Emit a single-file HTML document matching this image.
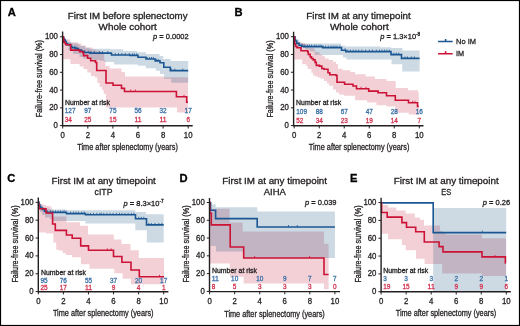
<!DOCTYPE html>
<html><head><meta charset="utf-8"><style>
html,body{margin:0;padding:0;background:#fff;}
svg{display:block;will-change:transform;filter:blur(0.3px);font-family:"Liberation Sans", sans-serif;}
text{stroke-width:0.3px;paint-order:stroke;}
</style></head><body>
<svg width="520" height="326" viewBox="0 0 520 326">
<rect x="0" y="0" width="520" height="326" fill="#fff"/>
<path d="M62.7,36.8L64,36.8L64,38L65.7,38L65.7,39.5L70.3,39.5L70.3,42.3L78.6,42.3L78.6,43.5L81.3,43.5L81.3,45.5L86,45.5L86,47.5L92.4,47.5L92.4,49.5L96,49.5L96,50.5L100,50.5L100,52L104.2,52L104.2,60L105.4,60L105.4,66L109.7,66L109.7,68.4L121.4,68.4L121.4,72.1L125,72.1L125,76.6L164,76.6L164,77.2L188,77.2L188,112.5L177,112.5L177,107.5L106,107.5L106,94L103.7,94L103.7,90L102,90L102,87L99.6,87L99.6,83L97.3,83L97.3,77.5L95,77.5L95,76L91,76L91,72.5L87.3,72.5L87.3,69L83.5,69L83.5,66.5L79.6,66.5L79.6,64L70.4,64L70.4,59.3L62.7,59.3Z" fill="#be1432" fill-opacity="0.2"/>
<path d="M62.7,36.8L63.5,36.8L63.5,38L64.8,38L64.8,39.5L67.5,39.5L67.5,42L71.2,42L71.2,43.2L76.7,43.2L76.7,44.1L79.5,44.1L79.5,46L85,46L85,47.8L89.6,47.8L89.6,48.8L110,48.8L110,49.3L123,49.3L123,51L137.4,51L137.4,52.3L146,52.3L146,54.1L159.5,54.1L159.5,56L163.2,56L163.2,59L170.5,59L170.5,60.9L188.2,60.9L188.2,82.8L171.2,82.8L171.2,78.8L164,78.8L164,74L160,74L160,70.7L155.8,70.7L155.8,68.2L146,68.2L146,65.8L138,65.8L138,64.5L114,64.5L114,62L104.6,62L104.6,60.8L100,60.8L100,60L93.3,60L93.3,59.5L88.7,59.5L88.7,58.5L83.2,58.5L83.2,57L79.5,57L79.5,54L73,54L73,50.1L68.4,50.1L68.4,46L64.8,46L64.8,42L63.5,42L63.5,36.8L62.7,36.8Z" fill="#064678" fill-opacity="0.2"/>
<path d="M62.7,36.8H63.5V38.5H64.3V40H65.2V41.5H66.1V43.5H67.5V44.6H70.7V46.5H72V47.8H75.3V48.6H78.4V50.1H81.5V51.2H84.5V52.5H90V53.1H111.5V55H130V55.4H138V57.2H146V59H155.2V60.9H160V62.7H163.8V67.2H170.3V70.6H188.2" fill="none" stroke="#1a5792" stroke-width="1.6"/>
<path d="M62.7,36.8H63.4V39H63.8V42.3H65.2V43.7H66.1V44.8H70.7V50.1H79.6V51.6H82.8V52.8H83.6V55.6H87.6V58.3H90.7V60.7H95.5V62.5H96.7V70.5H106V83H113V85.3H121.5V88.4H124.5V91.5H176.4V96.8H186.7V102.2H188" fill="none" stroke="#cc1236" stroke-width="1.6"/>
<path d="M74.8,47.8V45.8M76.8,48.6V46.6M88.2,52.5V50.5M90.9,53.1V51.1M94.3,53.1V51.1M99.7,53.1V51.1M102.4,53.1V51.1M107.8,53.1V51.1M115.2,55V53M118.5,55V53M121.9,55V53M125.3,55V53M129.3,55V53M132.5,55.4V53.4M134.3,55.4V53.4M136.7,55.4V53.4M147.2,59V57M149.6,59V57M151.5,59V57M153.3,59V57M156.4,60.9V58.9M158.2,60.9V58.9M171.7,70.6V68.6M174.8,70.6V68.6M182.8,70.6V68.6" fill="none" stroke="#1a5792" stroke-width="0.8"/>
<path d="M130.7,91.5V89.5M135.3,91.5V89.5M184,96.8V94.8" fill="none" stroke="#cc1236" stroke-width="0.8"/>
<path d="M62.6,31.6V125.8H192.7" fill="none" stroke="#231f20" stroke-width="1.4"/>
<text x="57.9" y="128.2" font-size="8.3" fill="#231f20" stroke="#231f20" text-anchor="end" textLength="4.34" lengthAdjust="spacingAndGlyphs">0</text>
<text x="57.9" y="110.44" font-size="8.3" fill="#231f20" stroke="#231f20" text-anchor="end" textLength="8.68" lengthAdjust="spacingAndGlyphs">20</text>
<text x="57.9" y="92.68" font-size="8.3" fill="#231f20" stroke="#231f20" text-anchor="end" textLength="8.68" lengthAdjust="spacingAndGlyphs">40</text>
<text x="57.9" y="74.92" font-size="8.3" fill="#231f20" stroke="#231f20" text-anchor="end" textLength="8.68" lengthAdjust="spacingAndGlyphs">60</text>
<text x="57.9" y="57.16" font-size="8.3" fill="#231f20" stroke="#231f20" text-anchor="end" textLength="8.68" lengthAdjust="spacingAndGlyphs">80</text>
<text x="57.9" y="39.4" font-size="8.3" fill="#231f20" stroke="#231f20" text-anchor="end" textLength="13.01" lengthAdjust="spacingAndGlyphs">100</text>
<text x="62.7" y="137.6" font-size="8.3" fill="#231f20" stroke="#231f20" text-anchor="middle" textLength="4.34" lengthAdjust="spacingAndGlyphs">0</text>
<text x="87.8" y="137.6" font-size="8.3" fill="#231f20" stroke="#231f20" text-anchor="middle" textLength="4.34" lengthAdjust="spacingAndGlyphs">2</text>
<text x="112.9" y="137.6" font-size="8.3" fill="#231f20" stroke="#231f20" text-anchor="middle" textLength="4.34" lengthAdjust="spacingAndGlyphs">4</text>
<text x="138" y="137.6" font-size="8.3" fill="#231f20" stroke="#231f20" text-anchor="middle" textLength="4.34" lengthAdjust="spacingAndGlyphs">6</text>
<text x="163.1" y="137.6" font-size="8.3" fill="#231f20" stroke="#231f20" text-anchor="middle" textLength="4.34" lengthAdjust="spacingAndGlyphs">8</text>
<text x="188.2" y="137.6" font-size="8.3" fill="#231f20" stroke="#231f20" text-anchor="middle" textLength="8.68" lengthAdjust="spacingAndGlyphs">10</text>
<path d="M59.9,125.6H62.6M59.9,107.84H62.6M59.9,90.08H62.6M59.9,72.32H62.6M59.9,54.56H62.6M59.9,36.8H62.6M62.7,125.8V128.5M87.8,125.8V128.5M112.9,125.8V128.5M138,125.8V128.5M163.1,125.8V128.5M188.2,125.8V128.5" fill="none" stroke="#231f20" stroke-width="1"/>
<text x="77.3" y="149.8" font-size="8.9" fill="#231f20" stroke="#231f20" textLength="100.6" lengthAdjust="spacingAndGlyphs">Time after splenectomy (years)</text>
<text transform="translate(42,78.6) rotate(-90)" x="0" y="0" font-size="8.9" fill="#231f20" stroke="#231f20" text-anchor="middle" textLength="77.2" lengthAdjust="spacingAndGlyphs">Failure-free survival (%)</text>
<text x="67.8" y="19" font-size="8.9" fill="#231f20" stroke="#231f20" stroke-width="0.12" textLength="119.7" lengthAdjust="spacingAndGlyphs">First IM before splenectomy</text>
<text x="98.6" y="29.7" font-size="8.9" fill="#231f20" stroke="#231f20" stroke-width="0.12" textLength="58.2" lengthAdjust="spacingAndGlyphs">Whole cohort</text>
<text x="153" y="39.3" font-size="7.5" fill="#231f20" stroke="#231f20" stroke-width="0.12"><tspan font-style="italic">p</tspan> = 0.0002</text>
<text x="7.7" y="15.6" font-size="11.2" fill="#000" stroke="#000" font-weight="bold">A</text>
<text x="65" y="105.1" font-size="6.7" fill="#231f20" stroke="#231f20" stroke-width="0.1" textLength="45" lengthAdjust="spacingAndGlyphs">Number at risk</text>
<text x="64.8" y="113.4" font-size="7" fill="#3a6fa6" stroke="#3a6fa6" stroke-width="0.05" textLength="10.74" lengthAdjust="spacingAndGlyphs">127</text>
<text x="87.8" y="113.4" font-size="7" fill="#3a6fa6" stroke="#3a6fa6" stroke-width="0.05" text-anchor="middle" textLength="7.16" lengthAdjust="spacingAndGlyphs">97</text>
<text x="112.9" y="113.4" font-size="7" fill="#3a6fa6" stroke="#3a6fa6" stroke-width="0.05" text-anchor="middle" textLength="7.16" lengthAdjust="spacingAndGlyphs">75</text>
<text x="138" y="113.4" font-size="7" fill="#3a6fa6" stroke="#3a6fa6" stroke-width="0.05" text-anchor="middle" textLength="7.16" lengthAdjust="spacingAndGlyphs">56</text>
<text x="163.1" y="113.4" font-size="7" fill="#3a6fa6" stroke="#3a6fa6" stroke-width="0.05" text-anchor="middle" textLength="7.16" lengthAdjust="spacingAndGlyphs">32</text>
<text x="188.2" y="113.4" font-size="7" fill="#3a6fa6" stroke="#3a6fa6" stroke-width="0.05" text-anchor="middle" textLength="7.16" lengthAdjust="spacingAndGlyphs">17</text>
<text x="64.8" y="122" font-size="7" fill="#d4314f" stroke="#d4314f" stroke-width="0.05" textLength="7.16" lengthAdjust="spacingAndGlyphs">34</text>
<text x="87.8" y="122" font-size="7" fill="#d4314f" stroke="#d4314f" stroke-width="0.05" text-anchor="middle" textLength="7.16" lengthAdjust="spacingAndGlyphs">25</text>
<text x="112.9" y="122" font-size="7" fill="#d4314f" stroke="#d4314f" stroke-width="0.05" text-anchor="middle" textLength="7.16" lengthAdjust="spacingAndGlyphs">15</text>
<text x="138" y="122" font-size="7" fill="#d4314f" stroke="#d4314f" stroke-width="0.05" text-anchor="middle" textLength="7.16" lengthAdjust="spacingAndGlyphs">11</text>
<text x="163.1" y="122" font-size="7" fill="#d4314f" stroke="#d4314f" stroke-width="0.05" text-anchor="middle" textLength="7.16" lengthAdjust="spacingAndGlyphs">11</text>
<text x="188.2" y="122" font-size="7" fill="#d4314f" stroke="#d4314f" stroke-width="0.05" text-anchor="middle" textLength="3.58" lengthAdjust="spacingAndGlyphs">6</text>
<path d="M294.2,36.7L295,36.7L295,39L296,39L296,41L297.8,41L297.8,42L301,42L301,42.7L305,42.7L305,44L307.1,44L307.1,45.2L309,45.2L309,47.7L314.5,47.7L314.5,50.7L315.5,50.7L315.5,52L319.4,52L319.4,54.4L322.4,54.4L322.4,56.2L325,56.2L325,58.5L328.6,58.5L328.6,60L333,60L333,61.8L336,61.8L336,64L338,64L338,68.8L342.7,68.8L342.7,70.3L350.3,70.3L350.3,71.9L355,71.9L355,74.2L365.7,74.2L365.7,76.5L374.9,76.5L374.9,79L386.5,79L386.5,81.1L395.7,81.1L395.7,88L408,88L408,90.3L418,90.3L418,92.6L418.8,92.6L418.8,114.5L408.8,114.5L408.8,112.7L395.3,112.7L395.3,106.5L386.7,106.5L386.7,105.2L376.4,105.2L376.4,102.6L367.2,102.6L367.2,100.3L355,100.3L355,95.7L344.2,95.7L344.2,94.5L339,94.5L339,92.6L336,92.6L336,89.6L333,89.6L333,85.7L329.1,85.7L329.1,83.5L327,83.5L327,81L324,81L324,78.8L320.7,78.8L320.7,77.5L318,77.5L318,76.5L315.3,76.5L315.3,75.5L313,75.5L313,72.8L311.4,72.8L311.4,69.1L307.7,69.1L307.7,66.1L306.5,66.1L306.5,64.2L302.2,64.2L302.2,59.5L294.2,59.5Z" fill="#be1432" fill-opacity="0.2"/>
<path d="M294.2,36.7L296,36.7L296,39.5L299.2,39.5L299.2,42.7L302.3,42.7L302.3,43.5L341,43.5L341,45.5L345,45.5L345,46.6L380,46.6L380,47.3L391,47.3L391,48.1L402.4,48.1L402.4,50.4L419.6,50.4L419.6,71.6L402.2,71.6L402.2,64.2L391.5,64.2L391.5,59.6L346.5,59.6L346.5,57.5L343,57.5L343,55L314.5,55L314.5,51.2L310,51.2L310,49.6L305.3,49.6L305.3,48.1L299.2,48.1L299.2,47L296,47L296,45L294.8,45L294.8,36.7L294.2,36.7Z" fill="#064678" fill-opacity="0.2"/>
<path d="M294.2,36.7H295V39.5H295.5V41H296.7V43.4H299.1V45.2H301.6V46.2H304V46.6H322.7V47.6H341.5V50.2H345.8V51.6H391V54.6H401.5V58.4H419.6" fill="none" stroke="#1a5792" stroke-width="1.6"/>
<path d="M294.2,36.7H294.5V44H295.5V46.5H297V47.7H301V50.7H307.7V52H308.3V54.4H310.2V56.9H311.5V58.5H313.2V59.9H315.1V62.4H316.3V65.4H319.4V66.1H321.8V68.5H324V69.2H328V72.8H329.8V74.7H336V75.5H337V82.3H344.6V84.3H353V86H356.5V88.8H368.7V91.1H378V92.8H386.5V95.7H395.3V100.3H408.5V102.8H417.5V106.4H418.8" fill="none" stroke="#cc1236" stroke-width="1.6"/>
<path d="M302.7,46.2V44.2M304.8,46.6V44.6M307.5,46.6V44.6M309.5,46.6V44.6M311.5,46.6V44.6M314.2,46.6V44.6M316.2,46.6V44.6M318.9,46.6V44.6M320.9,46.6V44.6M322.9,47.6V45.6M325.6,47.6V45.6M328.3,47.6V45.6M331,47.6V45.6M333,47.6V45.6M335,47.6V45.6M337,47.6V45.6M339.8,47.6V45.6M345.1,50.2V48.2M347.8,51.6V49.6M350.5,51.6V49.6M353.2,51.6V49.6M355.9,51.6V49.6M358.6,51.6V49.6M361.9,51.6V49.6M365.6,51.6V49.6M369.4,51.6V49.6M372.5,51.6V49.6M376.3,51.6V49.6M379.4,51.6V49.6M381.9,51.6V49.6M384.4,51.6V49.6M386.9,51.6V49.6M389.4,51.6V49.6M393.8,54.6V52.6M396.3,54.6V52.6M398.8,54.6V52.6M405,58.4V56.4M407.5,58.4V56.4M411.3,58.4V56.4M414.4,58.4V56.4" fill="none" stroke="#1a5792" stroke-width="0.8"/>
<path d="M361,88.8V86.8M366,88.8V86.8M378.5,92.8V90.8M412.6,102.8V100.8M414.9,102.8V100.8" fill="none" stroke="#cc1236" stroke-width="0.8"/>
<path d="M293.6,31.8V125.7H423.5" fill="none" stroke="#231f20" stroke-width="1.4"/>
<text x="288.9" y="128.2" font-size="8.3" fill="#231f20" stroke="#231f20" text-anchor="end" textLength="4.34" lengthAdjust="spacingAndGlyphs">0</text>
<text x="288.9" y="110.42" font-size="8.3" fill="#231f20" stroke="#231f20" text-anchor="end" textLength="8.68" lengthAdjust="spacingAndGlyphs">20</text>
<text x="288.9" y="92.64" font-size="8.3" fill="#231f20" stroke="#231f20" text-anchor="end" textLength="8.68" lengthAdjust="spacingAndGlyphs">40</text>
<text x="288.9" y="74.86" font-size="8.3" fill="#231f20" stroke="#231f20" text-anchor="end" textLength="8.68" lengthAdjust="spacingAndGlyphs">60</text>
<text x="288.9" y="57.08" font-size="8.3" fill="#231f20" stroke="#231f20" text-anchor="end" textLength="8.68" lengthAdjust="spacingAndGlyphs">80</text>
<text x="288.9" y="39.3" font-size="8.3" fill="#231f20" stroke="#231f20" text-anchor="end" textLength="13.01" lengthAdjust="spacingAndGlyphs">100</text>
<text x="294.2" y="137.6" font-size="8.3" fill="#231f20" stroke="#231f20" text-anchor="middle" textLength="4.34" lengthAdjust="spacingAndGlyphs">0</text>
<text x="319.22" y="137.6" font-size="8.3" fill="#231f20" stroke="#231f20" text-anchor="middle" textLength="4.34" lengthAdjust="spacingAndGlyphs">2</text>
<text x="344.24" y="137.6" font-size="8.3" fill="#231f20" stroke="#231f20" text-anchor="middle" textLength="4.34" lengthAdjust="spacingAndGlyphs">4</text>
<text x="369.26" y="137.6" font-size="8.3" fill="#231f20" stroke="#231f20" text-anchor="middle" textLength="4.34" lengthAdjust="spacingAndGlyphs">6</text>
<text x="394.28" y="137.6" font-size="8.3" fill="#231f20" stroke="#231f20" text-anchor="middle" textLength="4.34" lengthAdjust="spacingAndGlyphs">8</text>
<text x="419.3" y="137.6" font-size="8.3" fill="#231f20" stroke="#231f20" text-anchor="middle" textLength="8.68" lengthAdjust="spacingAndGlyphs">10</text>
<path d="M290.9,125.6H293.6M290.9,107.82H293.6M290.9,90.04H293.6M290.9,72.26H293.6M290.9,54.48H293.6M290.9,36.7H293.6M294.2,125.7V128.4M319.22,125.7V128.4M344.24,125.7V128.4M369.26,125.7V128.4M394.28,125.7V128.4M419.3,125.7V128.4" fill="none" stroke="#231f20" stroke-width="1"/>
<text x="308.8" y="149.6" font-size="8.9" fill="#231f20" stroke="#231f20" textLength="100.6" lengthAdjust="spacingAndGlyphs">Time after splenectomy (years)</text>
<text transform="translate(273,79) rotate(-90)" x="0" y="0" font-size="8.9" fill="#231f20" stroke="#231f20" text-anchor="middle" textLength="77.2" lengthAdjust="spacingAndGlyphs">Failure-free survival (%)</text>
<text x="306.3" y="19" font-size="8.9" fill="#231f20" stroke="#231f20" stroke-width="0.12" textLength="104.5" lengthAdjust="spacingAndGlyphs">First IM at any timepoint</text>
<text x="329.9" y="29.7" font-size="8.9" fill="#231f20" stroke="#231f20" stroke-width="0.12" textLength="58.8" lengthAdjust="spacingAndGlyphs">Whole cohort</text>
<text x="380.2" y="39.4" font-size="7.5" fill="#231f20" stroke="#231f20" stroke-width="0.12"><tspan font-style="italic">p</tspan> = 1.3&#215;10<tspan font-size="4.7" dy="-3.1">-8</tspan></text>
<text x="234.6" y="15.6" font-size="11.2" fill="#000" stroke="#000" font-weight="bold">B</text>
<text x="296.1" y="104.9" font-size="6.7" fill="#231f20" stroke="#231f20" stroke-width="0.1" textLength="45" lengthAdjust="spacingAndGlyphs">Number at risk</text>
<text x="296.3" y="114" font-size="7" fill="#3a6fa6" stroke="#3a6fa6" stroke-width="0.05" textLength="10.74" lengthAdjust="spacingAndGlyphs">109</text>
<text x="319.22" y="114" font-size="7" fill="#3a6fa6" stroke="#3a6fa6" stroke-width="0.05" text-anchor="middle" textLength="7.16" lengthAdjust="spacingAndGlyphs">88</text>
<text x="344.24" y="114" font-size="7" fill="#3a6fa6" stroke="#3a6fa6" stroke-width="0.05" text-anchor="middle" textLength="7.16" lengthAdjust="spacingAndGlyphs">67</text>
<text x="369.26" y="114" font-size="7" fill="#3a6fa6" stroke="#3a6fa6" stroke-width="0.05" text-anchor="middle" textLength="7.16" lengthAdjust="spacingAndGlyphs">47</text>
<text x="394.28" y="114" font-size="7" fill="#3a6fa6" stroke="#3a6fa6" stroke-width="0.05" text-anchor="middle" textLength="7.16" lengthAdjust="spacingAndGlyphs">28</text>
<text x="419.3" y="114" font-size="7" fill="#3a6fa6" stroke="#3a6fa6" stroke-width="0.05" text-anchor="middle" textLength="7.16" lengthAdjust="spacingAndGlyphs">16</text>
<text x="296.3" y="122.5" font-size="7" fill="#d4314f" stroke="#d4314f" stroke-width="0.05" textLength="7.16" lengthAdjust="spacingAndGlyphs">52</text>
<text x="319.22" y="122.5" font-size="7" fill="#d4314f" stroke="#d4314f" stroke-width="0.05" text-anchor="middle" textLength="7.16" lengthAdjust="spacingAndGlyphs">34</text>
<text x="344.24" y="122.5" font-size="7" fill="#d4314f" stroke="#d4314f" stroke-width="0.05" text-anchor="middle" textLength="7.16" lengthAdjust="spacingAndGlyphs">23</text>
<text x="369.26" y="122.5" font-size="7" fill="#d4314f" stroke="#d4314f" stroke-width="0.05" text-anchor="middle" textLength="7.16" lengthAdjust="spacingAndGlyphs">19</text>
<text x="394.28" y="122.5" font-size="7" fill="#d4314f" stroke="#d4314f" stroke-width="0.05" text-anchor="middle" textLength="7.16" lengthAdjust="spacingAndGlyphs">14</text>
<text x="419.3" y="122.5" font-size="7" fill="#d4314f" stroke="#d4314f" stroke-width="0.05" text-anchor="middle" textLength="3.58" lengthAdjust="spacingAndGlyphs">7</text>
<path d="M38.3,202.2L39,202.2L39,204L43,204L43,205L46,205L46,206L49.9,206L49.9,206.5L51.4,206.5L51.4,208.8L52.5,208.8L52.5,216.6L66.5,216.6L66.5,222.2L80,222.2L80,225.8L88,225.8L88,234.6L113.8,234.6L113.8,239.5L121.5,239.5L121.5,244.1L130.5,244.1L130.5,250.3L138.8,250.3L138.8,258L164,258L164,284.3L130.9,284.3L130.9,278.8L122.6,278.8L122.6,273.3L114.3,273.3L114.3,268.8L89.5,268.8L89.5,264.2L81,264.2L81,257.3L71.9,257.3L71.9,255L65.7,255L65.7,253L62.6,253L62.6,250.6L59,250.6L59,249.7L56.2,249.7L56.2,242.4L53.4,242.4L53.4,233.5L46,233.5L46,232.5L38.3,232.5Z" fill="#be1432" fill-opacity="0.2"/>
<path d="M38.3,202.2L39.5,202.2L39.5,204L41,204L41,205.5L43,205.5L43,207.5L46,207.5L46,208.8L50,208.8L50,209.6L67,209.6L67,210.3L135.3,210.3L135.3,211.9L146,211.9L146,214.2L163.7,214.2L163.7,242.6L146.8,242.6L146.8,230.3L135.3,230.3L135.3,223.4L85.5,223.4L85.5,221L52.5,221L52.5,219L50,219L50,217.5L45,217.5L45,215L42,215L42,212L40,212L40,208L38.8,208L38.8,202.2L38.3,202.2Z" fill="#064678" fill-opacity="0.2"/>
<path d="M38.3,202.2H39V204.5H39.8V206.5H40.7V208H42.5V209.5H44.5V211.3H47V212.4H66.5V213.6H85.5V214.8H135.5V218.8H146.5V224.9H163.7" fill="none" stroke="#1a5792" stroke-width="1.6"/>
<path d="M38.3,202.2H38.6V205H39V208.8H46V213H52.6V224H55.3V230.4H66.4V235H72.2V238.3H80.7V245.9H88.5V250.3H113.5V256.5H121.9V262.3H131V270H139.3V276.8H164" fill="none" stroke="#cc1236" stroke-width="1.6"/>
<path d="M50.5,212.4V210.4M53,212.4V210.4M55.5,212.4V210.4M58,212.4V210.4M60.5,212.4V210.4M63,212.4V210.4M64.9,212.4V210.4M70.5,213.6V211.6M73.6,213.6V211.6M76.1,213.6V211.6M78.6,213.6V211.6M81.8,213.6V211.6M84.3,213.6V211.6M88,214.8V212.8M90.5,214.8V212.8M93.6,214.8V212.8M96.8,214.8V212.8M99.9,214.8V212.8M101.3,214.8V212.8M103.8,214.8V212.8M106.9,214.8V212.8M110,214.8V212.8M113.1,214.8V212.8M116.3,214.8V212.8M119.4,214.8V212.8M121.9,214.8V212.8M125,214.8V212.8M128.1,214.8V212.8M131.3,214.8V212.8M133.8,214.8V212.8M138.8,218.8V216.8M141.3,218.8V216.8M143.8,218.8V216.8M148.8,224.9V222.9M151.3,224.9V222.9M155,224.9V222.9M158.8,224.9V222.9M161.9,224.9V222.9" fill="none" stroke="#1a5792" stroke-width="0.8"/>
<path d="M107.3,250.3V248.3M111.1,250.3V248.3M159.5,276.8V274.8" fill="none" stroke="#cc1236" stroke-width="0.8"/>
<path d="M38.3,197.6V291.7H168.4" fill="none" stroke="#231f20" stroke-width="1.4"/>
<text x="33.6" y="294.2" font-size="8.3" fill="#231f20" stroke="#231f20" text-anchor="end" textLength="4.34" lengthAdjust="spacingAndGlyphs">0</text>
<text x="33.6" y="276.34" font-size="8.3" fill="#231f20" stroke="#231f20" text-anchor="end" textLength="8.68" lengthAdjust="spacingAndGlyphs">20</text>
<text x="33.6" y="258.48" font-size="8.3" fill="#231f20" stroke="#231f20" text-anchor="end" textLength="8.68" lengthAdjust="spacingAndGlyphs">40</text>
<text x="33.6" y="240.62" font-size="8.3" fill="#231f20" stroke="#231f20" text-anchor="end" textLength="8.68" lengthAdjust="spacingAndGlyphs">60</text>
<text x="33.6" y="222.76" font-size="8.3" fill="#231f20" stroke="#231f20" text-anchor="end" textLength="8.68" lengthAdjust="spacingAndGlyphs">80</text>
<text x="33.6" y="204.9" font-size="8.3" fill="#231f20" stroke="#231f20" text-anchor="end" textLength="13.01" lengthAdjust="spacingAndGlyphs">100</text>
<text x="38.3" y="303.8" font-size="8.3" fill="#231f20" stroke="#231f20" text-anchor="middle" textLength="4.34" lengthAdjust="spacingAndGlyphs">0</text>
<text x="63.38" y="303.8" font-size="8.3" fill="#231f20" stroke="#231f20" text-anchor="middle" textLength="4.34" lengthAdjust="spacingAndGlyphs">2</text>
<text x="88.46" y="303.8" font-size="8.3" fill="#231f20" stroke="#231f20" text-anchor="middle" textLength="4.34" lengthAdjust="spacingAndGlyphs">4</text>
<text x="113.54" y="303.8" font-size="8.3" fill="#231f20" stroke="#231f20" text-anchor="middle" textLength="4.34" lengthAdjust="spacingAndGlyphs">6</text>
<text x="138.62" y="303.8" font-size="8.3" fill="#231f20" stroke="#231f20" text-anchor="middle" textLength="4.34" lengthAdjust="spacingAndGlyphs">8</text>
<text x="163.7" y="303.8" font-size="8.3" fill="#231f20" stroke="#231f20" text-anchor="middle" textLength="8.68" lengthAdjust="spacingAndGlyphs">10</text>
<path d="M35.6,291.6H38.3M35.6,273.74H38.3M35.6,255.88H38.3M35.6,238.02H38.3M35.6,220.16H38.3M35.6,202.3H38.3M38.3,291.7V294.4M63.38,291.7V294.4M88.46,291.7V294.4M113.54,291.7V294.4M138.62,291.7V294.4M163.7,291.7V294.4" fill="none" stroke="#231f20" stroke-width="1"/>
<text x="52.9" y="316.4" font-size="8.9" fill="#231f20" stroke="#231f20" textLength="100.6" lengthAdjust="spacingAndGlyphs">Time after splenectomy (years)</text>
<text transform="translate(17.7,244) rotate(-90)" x="0" y="0" font-size="8.9" fill="#231f20" stroke="#231f20" text-anchor="middle" textLength="77.2" lengthAdjust="spacingAndGlyphs">Failure-free survival (%)</text>
<text x="51.5" y="183.7" font-size="8.9" fill="#231f20" stroke="#231f20" stroke-width="0.12" textLength="104.3" lengthAdjust="spacingAndGlyphs">First IM at any timepoint</text>
<text x="94.6" y="194.5" font-size="8.9" fill="#231f20" stroke="#231f20" stroke-width="0.12" textLength="17.9" lengthAdjust="spacingAndGlyphs">cITP</text>
<text x="123.5" y="206.2" font-size="7.5" fill="#231f20" stroke="#231f20" stroke-width="0.12"><tspan font-style="italic">p</tspan> = 8.3&#215;10<tspan font-size="4.7" dy="-3.1">-7</tspan></text>
<text x="7.2" y="181.6" font-size="11.2" fill="#000" stroke="#000" font-weight="bold">C</text>
<text x="41" y="275.1" font-size="6.7" fill="#231f20" stroke="#231f20" stroke-width="0.1" textLength="45" lengthAdjust="spacingAndGlyphs">Number at risk</text>
<text x="40.4" y="283.3" font-size="7" fill="#3a6fa6" stroke="#3a6fa6" stroke-width="0.05" textLength="7.16" lengthAdjust="spacingAndGlyphs">95</text>
<text x="63.38" y="283.3" font-size="7" fill="#3a6fa6" stroke="#3a6fa6" stroke-width="0.05" text-anchor="middle" textLength="7.16" lengthAdjust="spacingAndGlyphs">76</text>
<text x="88.46" y="283.3" font-size="7" fill="#3a6fa6" stroke="#3a6fa6" stroke-width="0.05" text-anchor="middle" textLength="7.16" lengthAdjust="spacingAndGlyphs">55</text>
<text x="113.54" y="283.3" font-size="7" fill="#3a6fa6" stroke="#3a6fa6" stroke-width="0.05" text-anchor="middle" textLength="7.16" lengthAdjust="spacingAndGlyphs">37</text>
<text x="138.62" y="283.3" font-size="7" fill="#3a6fa6" stroke="#3a6fa6" stroke-width="0.05" text-anchor="middle" textLength="7.16" lengthAdjust="spacingAndGlyphs">20</text>
<text x="163.7" y="283.3" font-size="7" fill="#3a6fa6" stroke="#3a6fa6" stroke-width="0.05" text-anchor="middle" textLength="7.16" lengthAdjust="spacingAndGlyphs">17</text>
<text x="40.4" y="289.8" font-size="7" fill="#d4314f" stroke="#d4314f" stroke-width="0.05" textLength="7.16" lengthAdjust="spacingAndGlyphs">25</text>
<text x="63.38" y="289.8" font-size="7" fill="#d4314f" stroke="#d4314f" stroke-width="0.05" text-anchor="middle" textLength="7.16" lengthAdjust="spacingAndGlyphs">17</text>
<text x="88.46" y="289.8" font-size="7" fill="#d4314f" stroke="#d4314f" stroke-width="0.05" text-anchor="middle" textLength="7.16" lengthAdjust="spacingAndGlyphs">11</text>
<text x="113.54" y="289.8" font-size="7" fill="#d4314f" stroke="#d4314f" stroke-width="0.05" text-anchor="middle" textLength="3.58" lengthAdjust="spacingAndGlyphs">9</text>
<text x="138.62" y="289.8" font-size="7" fill="#d4314f" stroke="#d4314f" stroke-width="0.05" text-anchor="middle" textLength="3.58" lengthAdjust="spacingAndGlyphs">4</text>
<text x="163.7" y="289.8" font-size="7" fill="#d4314f" stroke="#d4314f" stroke-width="0.05" text-anchor="middle" textLength="3.58" lengthAdjust="spacingAndGlyphs">1</text>
<path d="M209.6,202.5L210.4,202.5L210.4,208.8L229.6,208.8L229.6,222.6L242.6,222.6L242.6,231.5L324,231.5L324,243.7L328.6,243.7L328.6,289.3L324,289.3L324,283.6L243.7,283.6L243.7,276.8L229.8,276.8L229.8,263.5L209.6,263.5Z" fill="#be1432" fill-opacity="0.2"/>
<path d="M209.6,202.5L212,202.5L212,204.2L215.7,204.2L215.7,207.3L257.2,207.3L257.2,211.4L334.9,211.4L334.9,258L243.7,258L243.7,251.6L216,251.6L216,246L210.4,246L210.4,202.5L209.6,202.5Z" fill="#064678" fill-opacity="0.2"/>
<path d="M209.6,202.5H210.5V210.3H215.6V218.6H257.2V227H334.9" fill="none" stroke="#1a5792" stroke-width="1.6"/>
<path d="M209.6,202.5H209.8V213.4H211.3V224.9H230.2V247H243.7V258H324V274.5H328.6" fill="none" stroke="#cc1236" stroke-width="1.6"/>
<path d="M288.5,227V225M297.3,227V225" fill="none" stroke="#1a5792" stroke-width="0.8"/>
<path d="M254.7,258V256M309.6,258V256" fill="none" stroke="#cc1236" stroke-width="0.8"/>
<path d="M209.5,198V291.6H340" fill="none" stroke="#231f20" stroke-width="1.4"/>
<text x="204.8" y="294" font-size="8.3" fill="#231f20" stroke="#231f20" text-anchor="end" textLength="4.34" lengthAdjust="spacingAndGlyphs">0</text>
<text x="204.8" y="276.22" font-size="8.3" fill="#231f20" stroke="#231f20" text-anchor="end" textLength="8.68" lengthAdjust="spacingAndGlyphs">20</text>
<text x="204.8" y="258.44" font-size="8.3" fill="#231f20" stroke="#231f20" text-anchor="end" textLength="8.68" lengthAdjust="spacingAndGlyphs">40</text>
<text x="204.8" y="240.66" font-size="8.3" fill="#231f20" stroke="#231f20" text-anchor="end" textLength="8.68" lengthAdjust="spacingAndGlyphs">60</text>
<text x="204.8" y="222.88" font-size="8.3" fill="#231f20" stroke="#231f20" text-anchor="end" textLength="8.68" lengthAdjust="spacingAndGlyphs">80</text>
<text x="204.8" y="205.1" font-size="8.3" fill="#231f20" stroke="#231f20" text-anchor="end" textLength="13.01" lengthAdjust="spacingAndGlyphs">100</text>
<text x="209.6" y="303.6" font-size="8.3" fill="#231f20" stroke="#231f20" text-anchor="middle" textLength="4.34" lengthAdjust="spacingAndGlyphs">0</text>
<text x="234.66" y="303.6" font-size="8.3" fill="#231f20" stroke="#231f20" text-anchor="middle" textLength="4.34" lengthAdjust="spacingAndGlyphs">2</text>
<text x="259.72" y="303.6" font-size="8.3" fill="#231f20" stroke="#231f20" text-anchor="middle" textLength="4.34" lengthAdjust="spacingAndGlyphs">4</text>
<text x="284.78" y="303.6" font-size="8.3" fill="#231f20" stroke="#231f20" text-anchor="middle" textLength="4.34" lengthAdjust="spacingAndGlyphs">6</text>
<text x="309.84" y="303.6" font-size="8.3" fill="#231f20" stroke="#231f20" text-anchor="middle" textLength="4.34" lengthAdjust="spacingAndGlyphs">8</text>
<text x="334.9" y="303.6" font-size="8.3" fill="#231f20" stroke="#231f20" text-anchor="middle" textLength="8.68" lengthAdjust="spacingAndGlyphs">10</text>
<path d="M206.8,291.4H209.5M206.8,273.62H209.5M206.8,255.84H209.5M206.8,238.06H209.5M206.8,220.28H209.5M206.8,202.5H209.5M209.6,291.6V294.3M234.66,291.6V294.3M259.72,291.6V294.3M284.78,291.6V294.3M309.84,291.6V294.3M334.9,291.6V294.3" fill="none" stroke="#231f20" stroke-width="1"/>
<text x="224.2" y="316.5" font-size="8.9" fill="#231f20" stroke="#231f20" textLength="100.6" lengthAdjust="spacingAndGlyphs">Time after splenectomy (years)</text>
<text transform="translate(188.9,244) rotate(-90)" x="0" y="0" font-size="8.9" fill="#231f20" stroke="#231f20" text-anchor="middle" textLength="77.2" lengthAdjust="spacingAndGlyphs">Failure-free survival (%)</text>
<text x="222.3" y="183.7" font-size="8.9" fill="#231f20" stroke="#231f20" stroke-width="0.12" textLength="104.7" lengthAdjust="spacingAndGlyphs">First IM at any timepoint</text>
<text x="263.8" y="194.6" font-size="8.9" fill="#231f20" stroke="#231f20" stroke-width="0.12" textLength="22.1" lengthAdjust="spacingAndGlyphs">AIHA</text>
<text x="305" y="205.3" font-size="7.5" fill="#231f20" stroke="#231f20" stroke-width="0.12"><tspan font-style="italic">p</tspan> = 0.039</text>
<text x="179.6" y="181.6" font-size="11.2" fill="#000" stroke="#000" font-weight="bold">D</text>
<text x="212" y="273.3" font-size="6.7" fill="#231f20" stroke="#231f20" stroke-width="0.1" textLength="45" lengthAdjust="spacingAndGlyphs">Number at risk</text>
<text x="211.7" y="281.1" font-size="7" fill="#3a6fa6" stroke="#3a6fa6" stroke-width="0.05" textLength="7.16" lengthAdjust="spacingAndGlyphs">11</text>
<text x="234.66" y="281.1" font-size="7" fill="#3a6fa6" stroke="#3a6fa6" stroke-width="0.05" text-anchor="middle" textLength="7.16" lengthAdjust="spacingAndGlyphs">10</text>
<text x="259.72" y="281.1" font-size="7" fill="#3a6fa6" stroke="#3a6fa6" stroke-width="0.05" text-anchor="middle" textLength="7.16" lengthAdjust="spacingAndGlyphs">10</text>
<text x="284.78" y="281.1" font-size="7" fill="#3a6fa6" stroke="#3a6fa6" stroke-width="0.05" text-anchor="middle" textLength="3.58" lengthAdjust="spacingAndGlyphs">9</text>
<text x="309.84" y="281.1" font-size="7" fill="#3a6fa6" stroke="#3a6fa6" stroke-width="0.05" text-anchor="middle" textLength="3.58" lengthAdjust="spacingAndGlyphs">7</text>
<text x="334.9" y="281.1" font-size="7" fill="#3a6fa6" stroke="#3a6fa6" stroke-width="0.05" text-anchor="middle" textLength="3.58" lengthAdjust="spacingAndGlyphs">7</text>
<text x="211.7" y="288.9" font-size="7" fill="#d4314f" stroke="#d4314f" stroke-width="0.05" textLength="3.58" lengthAdjust="spacingAndGlyphs">8</text>
<text x="234.66" y="288.9" font-size="7" fill="#d4314f" stroke="#d4314f" stroke-width="0.05" text-anchor="middle" textLength="3.58" lengthAdjust="spacingAndGlyphs">5</text>
<text x="259.72" y="288.9" font-size="7" fill="#d4314f" stroke="#d4314f" stroke-width="0.05" text-anchor="middle" textLength="3.58" lengthAdjust="spacingAndGlyphs">3</text>
<text x="284.78" y="288.9" font-size="7" fill="#d4314f" stroke="#d4314f" stroke-width="0.05" text-anchor="middle" textLength="3.58" lengthAdjust="spacingAndGlyphs">3</text>
<text x="309.84" y="288.9" font-size="7" fill="#d4314f" stroke="#d4314f" stroke-width="0.05" text-anchor="middle" textLength="3.58" lengthAdjust="spacingAndGlyphs">3</text>
<text x="334.9" y="288.9" font-size="7" fill="#d4314f" stroke="#d4314f" stroke-width="0.05" text-anchor="middle" textLength="3.58" lengthAdjust="spacingAndGlyphs">0</text>
<path d="M381.1,202.9L382,202.9L382,205L388.1,205L388.1,207.5L396.4,207.5L396.4,210.6L405.6,210.6L405.6,213.5L414.8,213.5L414.8,217.5L420,217.5L420,219.8L424,219.8L424,225.4L440,225.4L440,230.9L442.7,230.9L442.7,233L446,233L446,234.6L481.9,234.6L481.9,238.3L506,238.3L506,276L481.9,276L481.9,273.5L442.2,273.5L442.2,264.1L424.6,264.1L424.6,258.8L416,258.8L416,250.2L405.6,250.2L405.6,245L401.9,245L401.9,239.2L388.1,239.2L388.1,233.7L381.1,233.7Z" fill="#be1432" fill-opacity="0.2"/>
<path d="M381.1,202.9L433.2,202.9L433.2,207.9L506.2,207.9L506.2,291.7L433.2,291.7L433.2,202.9L381.1,202.9Z" fill="#064678" fill-opacity="0.2"/>
<path d="M381.1,202.9H433.2V232.6H506.2" fill="none" stroke="#1a5792" stroke-width="1.6"/>
<path d="M381.1,202.9H381.6V212.5H387.2V217.1H401.9V222.6H406.5V227.2H415.7V231.8H424.3V242H439.1V246.6H443V251.9H482V256.9H505.4V262.9H506" fill="none" stroke="#cc1236" stroke-width="1.6"/>
<path d="M482.3,232.6V230.6" fill="none" stroke="#1a5792" stroke-width="0.8"/>
<path d="M494.9,256.9V254.9" fill="none" stroke="#cc1236" stroke-width="0.8"/>
<path d="M381.1,197.8V291.8H510.8" fill="none" stroke="#231f20" stroke-width="1.4"/>
<text x="376.4" y="294.3" font-size="8.3" fill="#231f20" stroke="#231f20" text-anchor="end" textLength="4.34" lengthAdjust="spacingAndGlyphs">0</text>
<text x="376.4" y="276.48" font-size="8.3" fill="#231f20" stroke="#231f20" text-anchor="end" textLength="8.68" lengthAdjust="spacingAndGlyphs">20</text>
<text x="376.4" y="258.66" font-size="8.3" fill="#231f20" stroke="#231f20" text-anchor="end" textLength="8.68" lengthAdjust="spacingAndGlyphs">40</text>
<text x="376.4" y="240.84" font-size="8.3" fill="#231f20" stroke="#231f20" text-anchor="end" textLength="8.68" lengthAdjust="spacingAndGlyphs">60</text>
<text x="376.4" y="223.02" font-size="8.3" fill="#231f20" stroke="#231f20" text-anchor="end" textLength="8.68" lengthAdjust="spacingAndGlyphs">80</text>
<text x="376.4" y="205.2" font-size="8.3" fill="#231f20" stroke="#231f20" text-anchor="end" textLength="13.01" lengthAdjust="spacingAndGlyphs">100</text>
<text x="381.1" y="303.5" font-size="8.3" fill="#231f20" stroke="#231f20" text-anchor="middle" textLength="4.34" lengthAdjust="spacingAndGlyphs">0</text>
<text x="406.14" y="303.5" font-size="8.3" fill="#231f20" stroke="#231f20" text-anchor="middle" textLength="4.34" lengthAdjust="spacingAndGlyphs">2</text>
<text x="431.18" y="303.5" font-size="8.3" fill="#231f20" stroke="#231f20" text-anchor="middle" textLength="4.34" lengthAdjust="spacingAndGlyphs">4</text>
<text x="456.22" y="303.5" font-size="8.3" fill="#231f20" stroke="#231f20" text-anchor="middle" textLength="4.34" lengthAdjust="spacingAndGlyphs">6</text>
<text x="481.26" y="303.5" font-size="8.3" fill="#231f20" stroke="#231f20" text-anchor="middle" textLength="4.34" lengthAdjust="spacingAndGlyphs">8</text>
<text x="506.3" y="303.5" font-size="8.3" fill="#231f20" stroke="#231f20" text-anchor="middle" textLength="8.68" lengthAdjust="spacingAndGlyphs">10</text>
<path d="M378.4,291.7H381.1M378.4,273.88H381.1M378.4,256.06H381.1M378.4,238.24H381.1M378.4,220.42H381.1M378.4,202.6H381.1M381.1,291.8V294.5M406.14,291.8V294.5M431.18,291.8V294.5M456.22,291.8V294.5M481.26,291.8V294.5M506.3,291.8V294.5" fill="none" stroke="#231f20" stroke-width="1"/>
<text x="395.7" y="316.4" font-size="8.9" fill="#231f20" stroke="#231f20" textLength="100.6" lengthAdjust="spacingAndGlyphs">Time after splenectomy (years)</text>
<text transform="translate(360.5,244) rotate(-90)" x="0" y="0" font-size="8.9" fill="#231f20" stroke="#231f20" text-anchor="middle" textLength="77.2" lengthAdjust="spacingAndGlyphs">Failure-free survival (%)</text>
<text x="393.8" y="183.7" font-size="8.9" fill="#231f20" stroke="#231f20" stroke-width="0.12" textLength="104.9" lengthAdjust="spacingAndGlyphs">First IM at any timepoint</text>
<text x="441.2" y="194.6" font-size="8.9" fill="#231f20" stroke="#231f20" stroke-width="0.12" textLength="9.9" lengthAdjust="spacingAndGlyphs">ES</text>
<text x="482.8" y="205.2" font-size="7.5" fill="#231f20" stroke="#231f20" stroke-width="0.12"><tspan font-style="italic">p</tspan> = 0.26</text>
<text x="350" y="181.6" font-size="11.2" fill="#000" stroke="#000" font-weight="bold">E</text>
<text x="383.2" y="272.8" font-size="6.7" fill="#231f20" stroke="#231f20" stroke-width="0.1" textLength="45" lengthAdjust="spacingAndGlyphs">Number at risk</text>
<text x="383.2" y="280.9" font-size="7" fill="#3a6fa6" stroke="#3a6fa6" stroke-width="0.05" textLength="3.58" lengthAdjust="spacingAndGlyphs">3</text>
<text x="406.14" y="280.9" font-size="7" fill="#3a6fa6" stroke="#3a6fa6" stroke-width="0.05" text-anchor="middle" textLength="3.58" lengthAdjust="spacingAndGlyphs">3</text>
<text x="431.18" y="280.9" font-size="7" fill="#3a6fa6" stroke="#3a6fa6" stroke-width="0.05" text-anchor="middle" textLength="3.58" lengthAdjust="spacingAndGlyphs">3</text>
<text x="456.22" y="280.9" font-size="7" fill="#3a6fa6" stroke="#3a6fa6" stroke-width="0.05" text-anchor="middle" textLength="3.58" lengthAdjust="spacingAndGlyphs">2</text>
<text x="481.26" y="280.9" font-size="7" fill="#3a6fa6" stroke="#3a6fa6" stroke-width="0.05" text-anchor="middle" textLength="3.58" lengthAdjust="spacingAndGlyphs">2</text>
<text x="506.3" y="280.9" font-size="7" fill="#3a6fa6" stroke="#3a6fa6" stroke-width="0.05" text-anchor="middle" textLength="3.58" lengthAdjust="spacingAndGlyphs">1</text>
<text x="383.2" y="289.4" font-size="7" fill="#d4314f" stroke="#d4314f" stroke-width="0.05" textLength="7.16" lengthAdjust="spacingAndGlyphs">19</text>
<text x="406.14" y="289.4" font-size="7" fill="#d4314f" stroke="#d4314f" stroke-width="0.05" text-anchor="middle" textLength="7.16" lengthAdjust="spacingAndGlyphs">15</text>
<text x="431.18" y="289.4" font-size="7" fill="#d4314f" stroke="#d4314f" stroke-width="0.05" text-anchor="middle" textLength="7.16" lengthAdjust="spacingAndGlyphs">11</text>
<text x="456.22" y="289.4" font-size="7" fill="#d4314f" stroke="#d4314f" stroke-width="0.05" text-anchor="middle" textLength="3.58" lengthAdjust="spacingAndGlyphs">9</text>
<text x="481.26" y="289.4" font-size="7" fill="#d4314f" stroke="#d4314f" stroke-width="0.05" text-anchor="middle" textLength="3.58" lengthAdjust="spacingAndGlyphs">9</text>
<text x="506.3" y="289.4" font-size="7" fill="#d4314f" stroke="#d4314f" stroke-width="0.05" text-anchor="middle" textLength="3.58" lengthAdjust="spacingAndGlyphs">6</text>

<path d="M438.1,41.5H452.7M445.6,41.5V39" stroke="#1a5792" stroke-width="1.6" fill="none"/>
<path d="M438.1,53.8H452.7M445.6,53.8V51.3" stroke="#cc1236" stroke-width="1.6" fill="none"/>
<text x="456.1" y="43.8" font-size="7.9" fill="#231f20" stroke="#231f20" textLength="19.9" lengthAdjust="spacingAndGlyphs">No IM</text>
<text x="456.1" y="56.2" font-size="7.9" fill="#231f20" stroke="#231f20" textLength="8.1" lengthAdjust="spacingAndGlyphs">IM</text>

<rect x="0.5" y="0.5" width="519" height="325" fill="none" stroke="#000" stroke-width="1.2"/>
</svg>
</body></html>
